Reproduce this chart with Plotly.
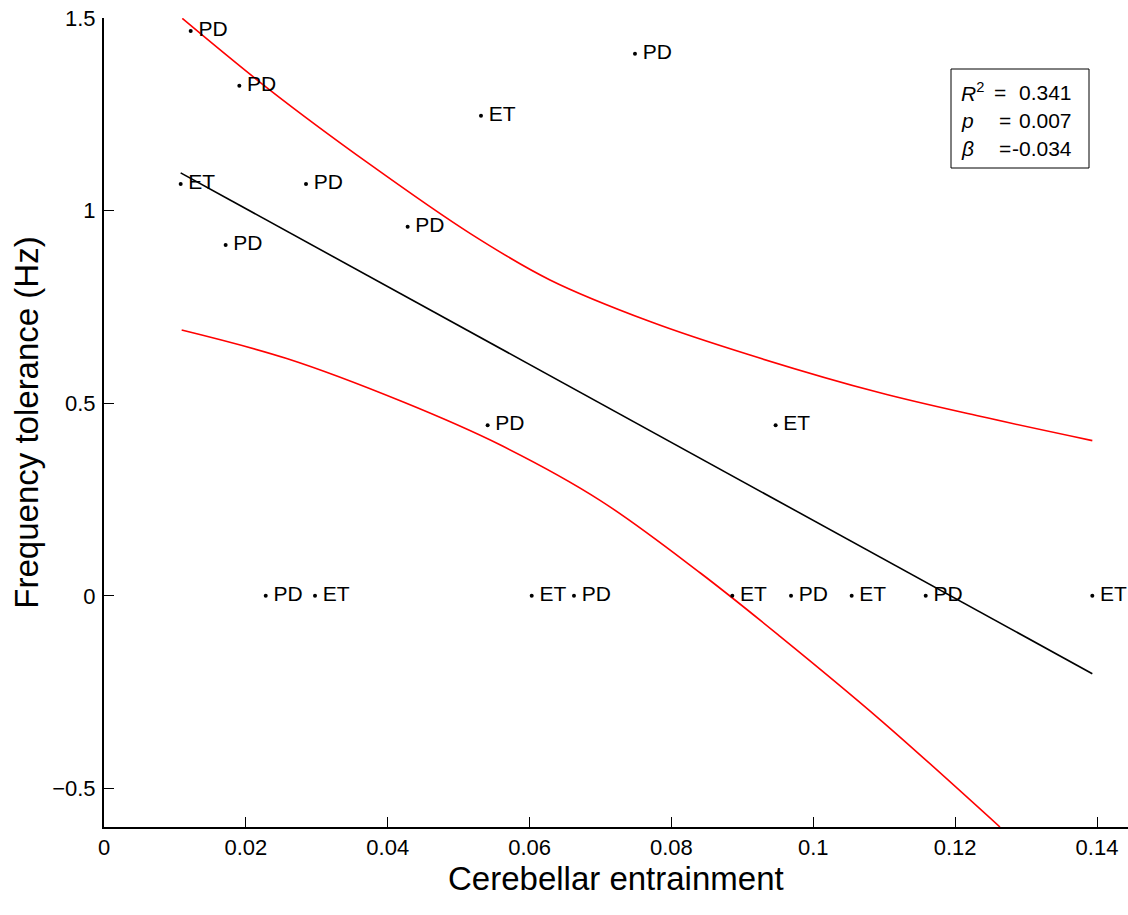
import plotly.graph_objects as go

# ---- data ----
pt_x = [0.01222, 0.01908, 0.07486, 0.05315, 0.01081, 0.02848, 0.04281, 0.01715,
        0.05409, 0.09469,
        0.02280, 0.02975, 0.06030, 0.06626, 0.08858, 0.09686, 0.10541, 0.11585, 0.13934]
pt_y = [1.466, 1.324, 1.407, 1.246, 1.069, 1.069, 0.958, 0.911,
        0.443, 0.443,
        0.0, 0.0, 0.0, 0.0, 0.0, 0.0, 0.0, 0.0, 0.0]
pt_group = ["PD", "PD", "PD", "ET", "ET", "PD", "PD", "PD",
            "PD", "ET",
            "PD", "ET", "ET", "PD", "ET", "PD", "ET", "PD", "ET"]

fit_x = [0.01081, 0.13934]
fit_y = [1.098, -0.202]

upper_x = [0.01104, 0.02340, 0.03750, 0.05160, 0.06288, 0.07698, 0.09108, 0.10941, 0.12350, 0.13934]
upper_y = [1.499, 1.313, 1.120, 0.941, 0.820, 0.712, 0.625, 0.527, 0.466, 0.403]

lower_x = [0.01095, 0.02576, 0.04220, 0.05583, 0.06993, 0.08403, 0.09531, 0.10940, 0.12632]
lower_y = [0.690, 0.616, 0.503, 0.392, 0.248, 0.060, -0.105, -0.321, -0.600]

stats_labels = ["<i>R</i><sup>2</sup>", "<i>p</i>", "<i>β</i>"]
stats_values = ["0.341", "0.007", "-0.034"]

x_ticks = [0, 0.02, 0.04, 0.06, 0.08, 0.1, 0.12, 0.14]
x_ticktext = ["0", "0.02", "0.04", "0.06", "0.08", "0.1", "0.12", "0.14"]
y_ticks = [-0.5, 0, 0.5, 1, 1.5]
y_ticktext = ["\u22120.5", "0", "0.5", "1", "1.5"]

x_title = "Cerebellar entrainment"
y_title = "Frequency tolerance (Hz)"

FONT = "Liberation Sans, Arial, Helvetica, sans-serif"

fig = go.Figure()
for xs, ys in ((upper_x, upper_y), (lower_x, lower_y)):
    fig.add_trace(go.Scatter(x=xs, y=ys, mode="lines",
                             line=dict(color="#ff0000", width=1.6, shape="spline", smoothing=1),
                             hoverinfo="skip", showlegend=False))
fig.add_trace(go.Scatter(x=fit_x, y=fit_y, mode="lines", line=dict(color="black", width=1.6),
                         hoverinfo="skip", showlegend=False))
fig.add_trace(go.Scatter(x=pt_x, y=pt_y, mode="markers+text",
                         text=["\u2009" + g for g in pt_group],
                         textposition="middle right",
                         textfont=dict(family=FONT, size=21, color="black"),
                         marker=dict(color="black", size=4),
                         cliponaxis=False, showlegend=False))

L, T, R, B = 104, 18, 0, 88
W, H = 1128, 915
pw, ph = W - L - R, H - T - B

def px(xp):
    return (xp - L) / pw

def py(yp):
    return (T + ph - yp) / ph

fig.add_shape(type="rect", xref="paper", yref="paper",
              x0=px(951), x1=px(1089), y0=py(168), y1=py(69),
              line=dict(color="black", width=1), fillcolor="white", layer="above")

row_y = [92, 120, 148]
eq_x = [999.5, 1005, 1005]
for lab, val, ry, ex in zip(stats_labels, stats_values, row_y, eq_x):
    fig.add_annotation(xref="paper", yref="paper", x=px(959), y=py(ry), text=lab,
                       xanchor="left", yanchor="middle", showarrow=False,
                       font=dict(family=FONT, size=21, color="black"))
    fig.add_annotation(xref="paper", yref="paper", x=px(ex), y=py(ry), text="=",
                       xanchor="center", yanchor="middle", showarrow=False,
                       font=dict(family=FONT, size=21, color="black"))
    fig.add_annotation(xref="paper", yref="paper", x=px(1074), y=py(ry), text=val,
                       xanchor="right", yanchor="middle", showarrow=False,
                       font=dict(family=FONT, size=21, color="black"))

# x axis title
fig.add_annotation(xref="paper", yref="paper", x=0.5, y=py(878), text=x_title,
                   xanchor="center", yanchor="middle", showarrow=False,
                   font=dict(family=FONT, size=33, color="black"))

fig.update_layout(
    width=W, height=H,
    margin=dict(l=L, r=R, t=T, b=B, pad=0, autoexpand=False),
    paper_bgcolor="white", plot_bgcolor="white",
    font=dict(family=FONT, color="black"),
    xaxis=dict(range=[0, 0.14437], tickvals=x_ticks, ticktext=x_ticktext, automargin=False,
               ticks="inside", ticklen=10, tickwidth=1, tickcolor="black",
               showline=True, linecolor="black", linewidth=2, mirror=False,
               showgrid=False, zeroline=False, ticklabeloverflow="allow",
               tickfont=dict(family=FONT, size=22, color="black")),
    yaxis=dict(range=[-0.6, 1.5], tickvals=y_ticks, ticktext=y_ticktext, automargin=False,
               ticks="inside", ticklen=10, tickwidth=1, tickcolor="black",
               showline=True, linecolor="black", linewidth=2, mirror=False,
               showgrid=False, zeroline=False, ticklabelstandoff=2, ticklabeloverflow="allow",
               tickfont=dict(family=FONT, size=22, color="black"),
               title=dict(text=y_title, font=dict(family=FONT, size=33, color="black"),
                          standoff=4)),
)

fig.write_html("out.html", config={"displayModeBar": False},
               post_script="document.body.style.margin='0';document.body.style.padding='0';")
